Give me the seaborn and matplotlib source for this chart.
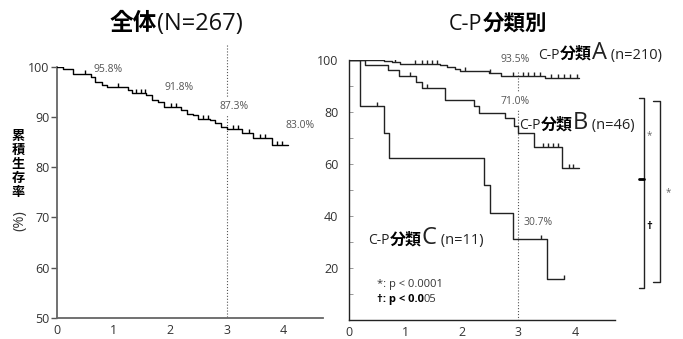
import numpy as np
import pandas as pd
import matplotlib
matplotlib.use("Agg")
import matplotlib.pyplot as plt
import seaborn as sns
from matplotlib.offsetbox import TextArea, HPacker, AnnotationBbox
from matplotlib.ticker import MultipleLocator

# overall survival (years, %)
all_t = [0, 0.10, 0.28, 0.59, 0.67, 0.79, 0.88, 1.25, 1.33, 1.58, 1.68, 1.78, 1.90,
         2.20, 2.30, 2.40, 2.50, 2.70, 2.80, 2.90, 3.00, 3.27, 3.47, 3.80, 4.09]
all_s = [100, 99.5, 98.6, 97.9, 97.0, 96.3, 95.9, 95.3, 94.8, 94.3, 93.4, 92.9, 92.0,
         91.4, 90.6, 90.3, 89.6, 89.3, 88.8, 88.0, 87.5, 86.8, 85.8, 84.4, 84.4]
all_cens = [0.49, 1.08, 1.40, 1.48, 1.55, 2.01, 2.10, 2.58, 2.67, 3.12, 3.20, 3.40,
            3.59, 3.68, 3.89, 3.98]

# C-P classes
a_t = [0, 0.62, 0.76, 0.91, 1.62, 1.74, 1.88, 1.97, 2.49, 2.69, 3.48, 4.07]
a_s = [100, 99.6, 99.1, 98.5, 98.1, 97.4, 96.5, 95.9, 94.9, 93.9, 93.1, 93.1]
a_cens = [0.50, 0.82, 1.18, 1.30, 1.38, 1.47, 1.56, 2.06, 2.50, 2.91, 3.09, 3.17,
          3.27, 3.39, 3.58, 3.70, 3.80, 3.92, 4.04]

b_t = [0, 0.29, 0.69, 0.90, 1.19, 1.30, 1.71, 2.21, 2.30, 2.77, 2.92, 2.99, 3.28, 3.77, 4.08]
b_s = [100, 98.1, 96.2, 93.8, 91.7, 89.3, 84.5, 82.3, 79.5, 77.6, 74.5, 72.0, 66.7, 58.3, 58.3]
b_cens = [1.09, 1.39, 3.44, 3.53, 3.62, 3.71, 3.89, 3.97]

c_t = [0, 0.20, 0.62, 0.72, 2.40, 2.50, 2.91, 3.50, 3.80]
c_s = [100, 82.3, 71.8, 62.2, 51.9, 41.3, 31.0, 15.6, 15.6]
c_cens = [0.50, 3.40, 3.80]

left_labels = ["95.8%", "91.8%", "87.3%", "83.0%"]
right_labels = ["93.5%", "71.0%", "30.7%"]

sns.set_style("ticks")
plt.rcParams['font.family'] = ['Open Sans', 'Noto Sans CJK JP', 'DejaVu Sans']

CJK = ['Noto Sans CJK JP', 'DejaVu Sans']
tick_mark = [(0, 0), (0, 1)]


def km(ax, t, s, cens, color, lw=1.0):
    df = pd.DataFrame({'t': t, 's': s})
    sns.lineplot(data=df, x='t', y='s', drawstyle='steps-post', color=color,
                 lw=lw, estimator=None, ax=ax, zorder=3)
    t = np.asarray(t)
    s = np.asarray(s)
    idx = np.searchsorted(t, cens, side='right') - 1
    ax.plot(cens, s[idx], ls='none', marker=tick_mark, ms=5.5, mew=1.0,
            color=color, zorder=3)


def rich(ax, x, y, parts, xycoords='data', align=(0, 0.5)):
    areas = [TextArea(txt, textprops=props) for txt, props in parts]
    pack = HPacker(children=areas, align='baseline', pad=0, sep=0)
    ab = AnnotationBbox(pack, (x, y), xycoords=xycoords, box_alignment=align,
                        frameon=False, pad=0, annotation_clip=False)
    ax.add_artist(ab)


fig = plt.figure(figsize=(6.83, 3.39), dpi=100)
W, H = 683, 339
ax1 = fig.add_axes([57.3 / W, 1 - 318 / H, (323 - 57.3) / W, (318 - 66.5) / H])
ax2 = fig.add_axes([348.5 / W, 1 - 320 / H, (615 - 348.5) / W, (320 - 60) / H])

# ---- left panel
km(ax1, all_t, all_s, all_cens, 'black')
ax1.set_xlim(0, 4.71)
ax1.set_ylim(50, 100)
ax1.set_xticks([0, 1, 2, 3, 4])
ax1.set_yticks([50, 60, 70, 80, 90, 100])
ax1.tick_params(axis='y', direction='out', length=4, width=1, color='#555',
                pad=1.5, labelsize=9, labelcolor='#333')
ax1.tick_params(axis='x', length=0, pad=4.5, labelsize=9, labelcolor='#333')
for sp in ['top', 'right']:
    ax1.spines[sp].set_visible(False)
for sp in ['left', 'bottom']:
    ax1.spines[sp].set_color('#666')
    ax1.spines[sp].set_linewidth(1.3)
ax1.set_xlabel('')
ax1.set_ylabel('')
ax1.plot([3, 3], [104.3, 50], ls=':', lw=0.8, color='#555', clip_on=False, zorder=1)
pos_left = [(0.90, 99.5), (2.16, 95.8), (3.13, 92.1), (4.30, 88.2)]
for (x, y), lab in zip(pos_left, left_labels):
    ax1.text(x, y, lab, ha='center', va='center', fontsize=7.5, color='#555',
             bbox=dict(boxstyle='square,pad=0.35', fc='white', ec='none'), zorder=2)

# ---- right panel
km(ax2, a_t, a_s, a_cens, '#222')
km(ax2, b_t, b_s, b_cens, '#222')
km(ax2, c_t, c_s, c_cens, '#222')
ax2.set_xlim(0, 4.71)
ax2.set_ylim(0, 100)
ax2.set_xticks([0, 1, 2, 3, 4])
ax2.yaxis.set_major_locator(MultipleLocator(20))
ax2.yaxis.set_minor_locator(MultipleLocator(10))
ax2.set_yticks([20, 40, 60, 80, 100])
ax2.tick_params(axis='y', which='both', direction='in', length=3, width=0.6,
                color='#888', pad=7.2, labelsize=9, labelcolor='#333')
ax2.tick_params(axis='x', length=0, pad=4, labelsize=9, labelcolor='#333')
for sp in ['top', 'right']:
    ax2.spines[sp].set_visible(False)
for sp in ['left', 'bottom']:
    ax2.spines[sp].set_color('#222')
    ax2.spines[sp].set_linewidth(1.0)
ax2.set_xlabel('')
ax2.set_ylabel('')
ax2.plot([3, 3], [95.5, 0], ls=':', lw=0.8, color='#555', clip_on=False, zorder=1)
pos_right = [(2.95, 100.3), (2.95, 84.2), (3.35, 37.4)]
for (x, y), lab in zip(pos_right, right_labels):
    ax2.text(x, y, lab, ha='center', va='center', fontsize=7.5, color='#555',
             bbox=dict(boxstyle='square,pad=0.35', fc='white', ec='none'), zorder=2)

norm = dict(fontsize=10, color='#222')
bold_cjk = dict(fontsize=11.5, weight='bold', family=CJK, color='black')
big = dict(fontsize=17, color='#222')
paren = dict(fontsize=10.5, color='#222')
for (x, y), letter, n in [((3.35, 102.8), 'A', 210), ((3.02, 75.7), 'B', 46),
                          ((0.35, 31.4), 'C', 11)]:
    rich(ax2, x, y, [('C-P', norm), ('分類', bold_cjk), (letter, big),
                     (' (n=%d)' % n, paren)])

ax2.text(0.50, 13.5, '*: p < 0.0001', fontsize=8, color='#333', va='center')
rich(ax2, 0.50, 7.7, [('†: p < 0.0', dict(fontsize=8, weight='bold', color='black')),
                      ('05', dict(fontsize=8, color='#333'))])

# significance brackets
br = dict(color='#222', lw=1.0, clip_on=False)
ax2.plot([5.14, 5.22, 5.22, 5.14], [85.3, 85.3, 12.2, 12.2], **br)
ax2.plot([5.14, 5.22], [54.1, 54.1], color='black', lw=2.0, clip_on=False)
ax2.plot([5.39, 5.50, 5.50, 5.39], [84.3, 84.3, 14.7, 14.7], **br)
ax2.text(5.32, 70.8, '*', fontsize=7, color='#666', ha='center', va='center', clip_on=False)
ax2.text(5.65, 49.0, '*', fontsize=7, color='#666', ha='center', va='center', clip_on=False)
ax2.text(5.32, 35.9, '†', fontsize=8, weight='bold', color='black', ha='center',
         va='center', clip_on=False)

# titles
rich(ax1, 176 / W, 1 - 24 / H, [('全体', dict(fontsize=17, weight='bold', family=CJK, color='black')),
                                ('(N=267)', dict(fontsize=17, color='#111'))],
     xycoords='figure fraction', align=(0.5, 0.5))
rich(ax1, 498 / W, 1 - 24 / H, [('C-P', dict(fontsize=15.5, color='#111')),
                                ('分類別', dict(fontsize=15.5, weight='bold', family=CJK, color='black'))],
     xycoords='figure fraction', align=(0.5, 0.5))

# y label (vertical writing)
fig.text(18 / W, 1 - 164 / H, '累\n積\n生\n存\n率', ha='center', va='center',
         fontsize=9.5, weight='bold', family=CJK, linespacing=1.0, color='black')
fig.text(20 / W, 1 - 221 / H, '(%)', ha='center', va='center', rotation=90,
         fontsize=10.5, color='#333')

fig.savefig('out.png', dpi=100)
